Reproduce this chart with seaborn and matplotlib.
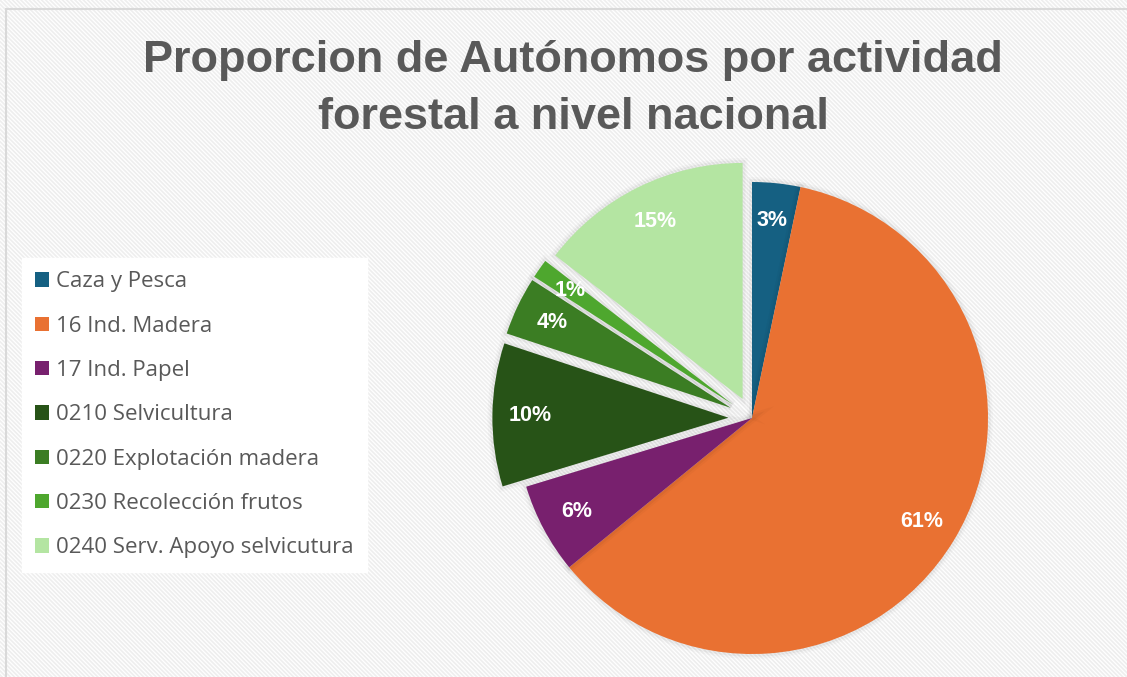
import matplotlib
matplotlib.use("Agg")
import matplotlib.pyplot as plt
import matplotlib.patheffects as pe
from matplotlib.patches import Rectangle, Patch
import seaborn as sns

categories = ["Caza y Pesca", "16 Ind. Madera", "17 Ind. Papel", "0210 Selvicultura",
              "0220 Explotación madera", "0230 Recolección frutos", "0240 Serv. Apoyo selvicutura"]
shares = [3.3, 60.8, 6.2, 9.8, 4.0, 1.3, 14.6]
explode = [0, 0, 0, 0.1, 0.1, 0.1, 0.09]
colors = ["#156082", "#E97132", "#78206E", "#275317", "#3B7D23", "#4EA72E", "#B4E5A2"]
title = "Proporcion de Autónomos por actividad\nforestal a nivel nacional"

sns.set_theme(style="white")
plt.rcParams["hatch.color"] = "#eeeeee"
plt.rcParams["hatch.linewidth"] = 1.2

W, H = 1127, 677
fig = plt.figure(figsize=(W / 100, H / 100), dpi=100)
fig.patch.set_facecolor("white")
bg = Rectangle((0, 0), 1, 1, transform=fig.transFigure, facecolor="white",
               edgecolor="#eeeeee", hatch="\\" * 8, lw=0, zorder=0)
fig.add_artist(bg)
border = Rectangle((6 / W, -0.05), 1.2, 1 - 8.5 / H + 0.05, transform=fig.transFigure,
                   facecolor="none", edgecolor="#d9d9d9", lw=1.5, zorder=1)
fig.add_artist(border)

R = 236.0
cx, cy = 752, 418
span = 1.3
size = 2 * span * R
ax = fig.add_axes([(cx - size / 2) / W, (H - cy - size / 2) / H, size / W, size / H])
ax.set_facecolor("none")
ax.patch.set_alpha(0)

palette = sns.color_palette(colors)
wedges, texts, autotexts = ax.pie(
    shares, colors=palette, explode=explode, startangle=90,
    counterclock=False, autopct=lambda p: f"{p:.0f}%", pctdistance=0.84,
    wedgeprops=dict(linewidth=0),
    textprops=dict(color="white", fontsize=15.5, fontweight="bold", family="Liberation Sans"))
for w in wedges:
    w.set_path_effects([pe.Stroke(linewidth=7, foreground="black", alpha=0.025),
                        pe.Stroke(linewidth=4, foreground="black", alpha=0.04),
                        pe.Normal()])
ax.set_xlim(-span, span)
ax.set_ylim(-span, span)
ax.set_aspect("equal")
ax.axis("off")

fig.text(573 / W, 1 - 89 / H, title, ha="center", va="center", fontsize=32.5,
         fontweight="bold", color="#595959", family="Liberation Sans", linespacing=1.5)

handles = [Patch(facecolor=c, edgecolor="none") for c in palette]
leg = fig.legend(handles, categories, loc="upper left", bbox_to_anchor=(22 / W, 1 - 258 / H),
                 frameon=True, fancybox=False, framealpha=1, edgecolor="white",
                 facecolor="white", prop=dict(family="Open Sans", size=16),
                 handlelength=0.62, handleheight=0.62, handletextpad=0.3,
                 labelspacing=1.05, borderpad=0.6, borderaxespad=0, labelcolor="#595959")

fig.savefig("out.png", dpi=100)
